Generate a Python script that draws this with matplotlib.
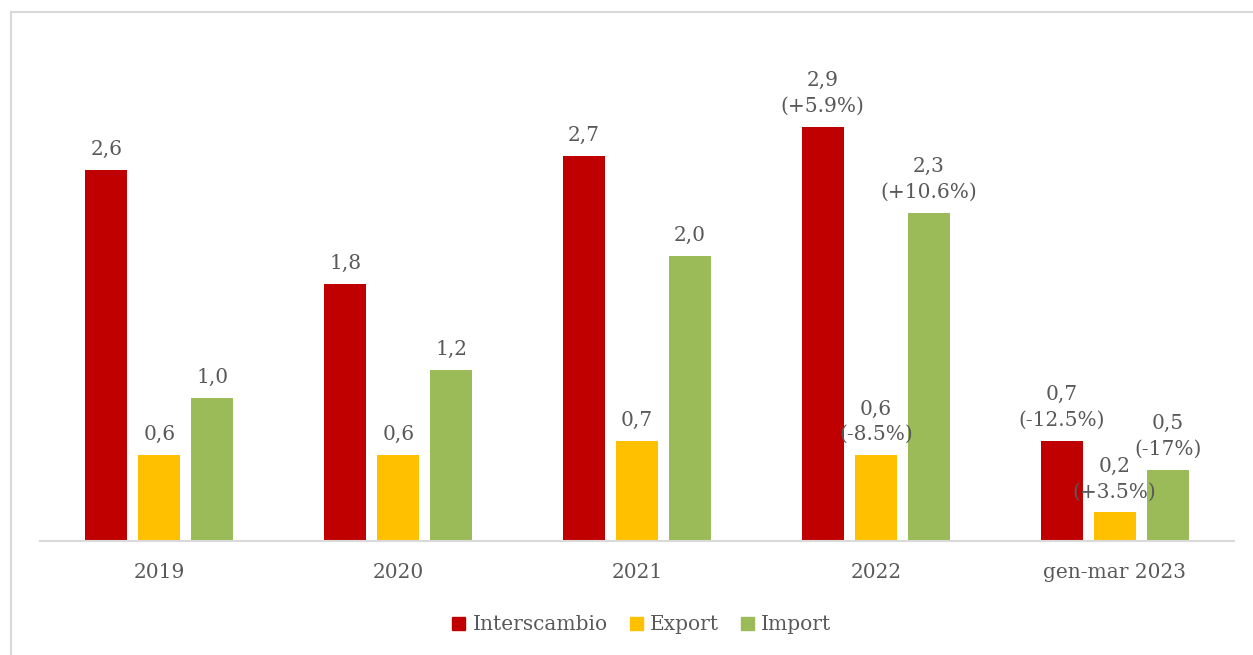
import matplotlib.pyplot as plt
from matplotlib.patches import Patch, Rectangle
import numpy as np

periodi = ['2019', '2020', '2021', '2022', 'gen-mar 2023']
interscambio = [2.6, 1.8, 2.7, 2.9, 0.7]
export = [0.6, 0.6, 0.7, 0.6, 0.2]
import_ = [1.0, 1.2, 2.0, 2.3, 0.5]
# variazioni % (solo per gli ultimi due periodi)
var_inter = ['', '', '', '+5.9%', '-12.5%']
var_export = ['', '', '', '-8.5%', '+3.5%']
var_import = ['', '', '', '+10.6%', '-17%']

serie = [('Interscambio', interscambio, var_inter, '#C00000'),
         ('Export', export, var_export, '#FFC000'),
         ('Import', import_, var_import, '#9BBB59')]

plt.rcParams['font.family'] = ['DejaVu Serif']
grigio = '#595959'
fs = 14.5

fig = plt.figure(figsize=(12.53, 6.55), dpi=100)
ax = fig.add_axes([40/1253, 1-541/655, 1194/1253, (541-41.6)/655])

x = np.arange(len(periodi))
w = 0.176
off = 0.222
for i, (nome, vals, var, col) in enumerate(serie):
    pos = x + (i-1)*off
    ax.bar(pos, vals, w, color=col)
    for p, v, d in zip(pos, vals, var):
        txt = ('%.1f' % v).replace('.', ',')
        if d:
            txt += '\n(' + d + ')'
        ax.annotate(txt, (p, v), xytext=(0, 8), textcoords='offset points',
                    ha='center', va='bottom', fontsize=fs, color=grigio,
                    linespacing=1.45)

ax.set_xlim(-0.5, len(periodi)-0.5)
ax.set_ylim(0, 3.5)
ax.set_xticks(x)
ax.set_xticklabels(periodi, fontsize=fs, color=grigio)
ax.tick_params(axis='x', length=0, pad=16)
ax.set_yticks([])
for s in ['top', 'right', 'left']:
    ax.spines[s].set_visible(False)
ax.spines['bottom'].set_color('#d9d9d9')
ax.spines['bottom'].set_linewidth(1.5)

handles = [Patch(color=c, label=n) for n, _, _, c in serie]
fig.legend(handles=handles, loc='center', bbox_to_anchor=(642/1253, 1-625/655),
           ncol=3, frameon=False, fontsize=fs, labelcolor=grigio,
           handlelength=0.65, handleheight=0.65, handletextpad=0.35, columnspacing=1.1)

# cornice del grafico
fig.patches.append(Rectangle((10.5/1253, -0.1), 1.2, 1-11.5/655+0.1,
                             transform=fig.transFigure, fill=False,
                             edgecolor='#d9d9d9', linewidth=1.5))

fig.savefig('out.png', dpi=100)
